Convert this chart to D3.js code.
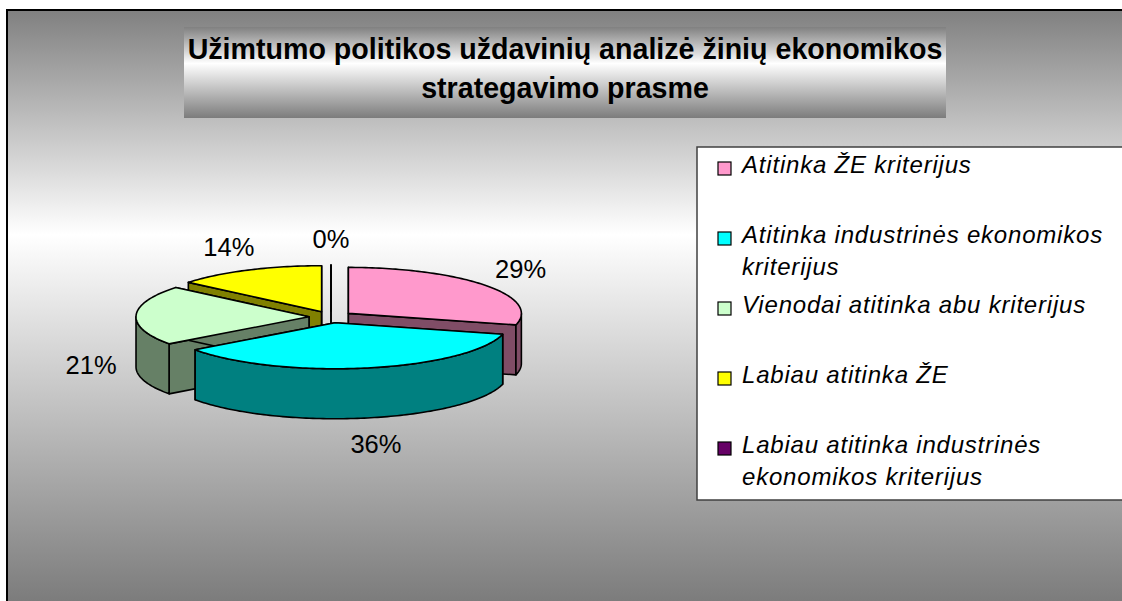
<!DOCTYPE html>
<html>
<head>
<meta charset="utf-8">
<script src="https://cdn.jsdelivr.net/npm/d3@7"></script>
<style>
  html, body { margin: 0; background: #fff; overflow: hidden; }
  svg { display: block; }
  text { font-family: "Liberation Sans", Arial, sans-serif; }
</style>
</head>
<body>
<div id="chart"></div>
<script>
const titleLines = ["Užimtumo politikos uždavinių analizė žinių ekonomikos", "strategavimo prasme"];
const categories = [
    "Atitinka ŽE kriterijus",
    "Atitinka industrinės ekonomikos kriterijus",
    "Vienodai atitinka abu kriterijus",
    "Labiau atitinka ŽE",
    "Labiau atitinka industrinės ekonomikos kriterijus"
];
const percents = [29, 36, 21, 14, 0];
const topColors = ["#ff99cc", "#00ffff", "#ccffcc", "#ffff00", "#660066"];

function drawChart() {
    const W = 1122, H = 601;
    const svg = d3.select("#chart").append("svg")
        .attr("width", W).attr("height", H);

    const defs = svg.append("defs");
    let grad = function (id, y1, y2, mid) {
        let g = defs.append("linearGradient").attr("id", id)
            .attr("gradientUnits", "userSpaceOnUse")
            .attr("x1", 0).attr("x2", 0).attr("y1", y1).attr("y2", y2);
        g.append("stop").attr("offset", 0).attr("stop-color", "#808080");
        g.append("stop").attr("offset", mid).attr("stop-color", "#ffffff");
        g.append("stop").attr("offset", 1).attr("stop-color", "#7c7c7c");
    }
    grad("bg", 10, 601, 0.38);
    grad("titlebg", 27, 118, 0.4);

    // chart area, only its left and top edges are in the picture
    svg.append("rect")
        .attr("x", 7).attr("y", 10).attr("width", W - 7).attr("height", H - 10)
        .attr("fill", "url(#bg)");
    svg.append("path")
        .attr("d", `M7,${H}V10H${W}`)
        .attr("fill", "none").attr("stroke", "#000").attr("stroke-width", 2);

    // title
    svg.append("rect")
        .attr("x", 184).attr("y", 27).attr("width", 762).attr("height", 91)
        .attr("fill", "url(#titlebg)");
    svg.append("g").selectAll("text")
        .data(titleLines)
        .join("text")
        .attr("x", 565)
        .attr("y", (d, i) => 59 + i * 39)
        .attr("text-anchor", "middle")
        .style("font-size", "28.6px")
        .style("font-weight", "bold")
        .text(d => d);

    // 3D pie
    const cx = 331, cy = 317, rx = 173, ry = 46, depth = 50, explode = 22;
    const k = ry / rx;
    const data = categories.map((c, i) => ({name: c, value: percents[i], color: topColors[i]}));
    const arcs = d3.pie().sort(null).value(d => d.value)(data);

    arcs.forEach(function (a) {
        a.mid = (a.startAngle + a.endAngle) / 2;
        a.off = [explode * Math.sin(a.mid), -explode * k * Math.cos(a.mid)];
    });

    let pt = function (a, ang, dz) {
        return [cx + a.off[0] + rx * Math.sin(ang), cy + a.off[1] - ry * Math.cos(ang) + dz];
    }
    let apex = (a, dz) => [cx + a.off[0], cy + a.off[1] + dz];
    let arcPts = function (a, s, e, dz) {
        let n = Math.max(2, Math.ceil(Math.abs(e - s) / 0.02));
        return d3.range(n + 1).map(i => pt(a, s + (e - s) * i / n, dz));
    }
    let line = d3.line();

    let side = function (c) {
        let r = d3.rgb(c);
        return d3.rgb(r.r * 0.5, r.g * 0.5, r.b * 0.5).formatHex();
    }

    // back slices first
    const order = arcs.slice().sort((p, q) => (-Math.cos(p.mid)) - (-Math.cos(q.mid)));
    const pieG = svg.append("g")
        .attr("stroke", "#000").attr("stroke-width", 1.6).attr("stroke-linejoin", "round");

    order.forEach(function (a) {
        const g = pieG.append("g");
        const dark = side(a.data.color);
        // radial cut faces
        [a.startAngle, a.endAngle].forEach(function (ang) {
            g.append("path")
                .attr("d", line([apex(a, 0), pt(a, ang, 0), pt(a, ang, depth), apex(a, depth)]) + "Z")
                .attr("fill", dark);
        });
        // outer wall, front half only
        let s = Math.max(a.startAngle, Math.PI / 2), e = Math.min(a.endAngle, 3 * Math.PI / 2);
        if (e > s) {
            let pts = arcPts(a, s, e, 0).concat(arcPts(a, e, s, depth));
            g.append("path").attr("d", line(pts) + "Z").attr("fill", dark);
        }
        // top face
        let top = [apex(a, 0)].concat(arcPts(a, a.startAngle, a.endAngle, 0));
        g.append("path").attr("d", line(top) + "Z").attr("fill", a.data.color);
    });

    // data labels
    const lx = 45, ly = 26;
    svg.append("g").selectAll("text")
        .data(arcs)
        .join("text")
        .attr("x", a => cx + a.off[0] + (rx + lx) * Math.sin(a.mid))
        .attr("y", a => cy + a.off[1] - (ry + ly) * Math.cos(a.mid) + (Math.cos(a.mid) < 0.1 ? depth : 0))
        .attr("dy", "0.36em")
        .attr("text-anchor", "middle")
        .style("font-size", "25.5px")
        .text(a => d3.format(".0%")(a.data.value / 100));

    // legend, its right edge is cut off
    const legX = 697, legY = 147, legB = 500;
    svg.append("rect")
        .attr("x", legX).attr("y", legY).attr("width", W - legX).attr("height", legB - legY)
        .attr("fill", "#fff");
    svg.append("path")
        .attr("d", `M${W},${legY}H${legX}V${legB}H${W}`)
        .attr("fill", "none").attr("stroke", "#404040").attr("stroke-width", 1.5);

    const legend = svg.append("g");
    const maxW = 372;
    data.forEach(function (d, i) {
        const base = 173 + i * 70;
        legend.append("rect")
            .attr("x", 718).attr("y", base - 11).attr("width", 13).attr("height", 13)
            .attr("fill", d.color).attr("stroke", "#000").attr("stroke-width", 1.2);
        const t = legend.append("text")
            .attr("x", 742).attr("y", base)
            .style("font-size", "24px").style("font-style", "italic")
            .style("letter-spacing", "0.8px");
        // wrap words
        let words = d.name.split(" "), cur = [], lineNo = 0;
        let ts = t.append("tspan").attr("x", 742).attr("y", base);
        words.forEach(function (w) {
            cur.push(w);
            ts.text(cur.join(" "));
            if (ts.node().getComputedTextLength() > maxW && cur.length > 1) {
                cur.pop();
                ts.text(cur.join(" "));
                cur = [w];
                lineNo++;
                ts = t.append("tspan").attr("x", 742).attr("y", base + lineNo * 32).text(w);
            }
        });
    });
}
drawChart();
</script>
</body>
</html>
